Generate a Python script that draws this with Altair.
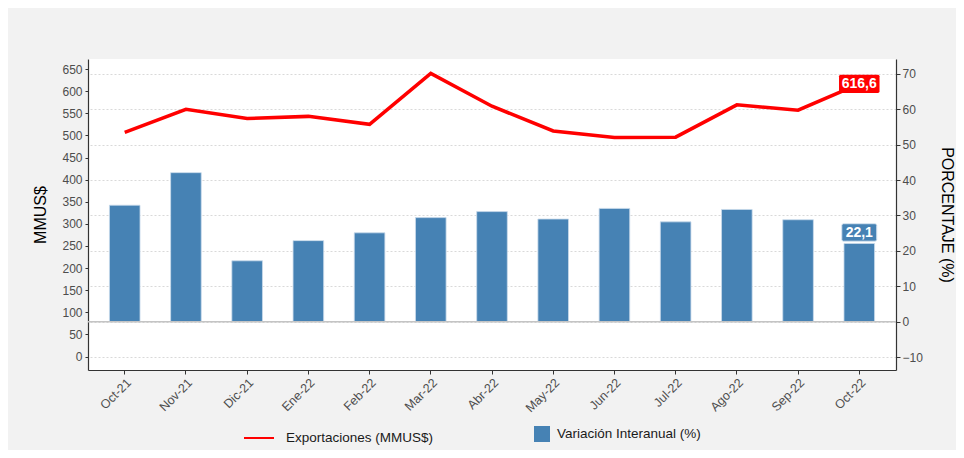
import altair as alt
import pandas as pd

months = ["Oct-21", "Nov-21", "Dic-21", "Ene-22", "Feb-22", "Mar-22", "Abr-22",
          "May-22", "Jun-22", "Jul-22", "Ago-22", "Sep-22", "Oct-22"]
exports = [507, 559, 538, 543, 525, 640, 566, 510, 495, 496, 569, 557, 616.6]
yoy = [32.9, 42.1, 17.2, 22.9, 25.1, 29.4, 31.1, 29.0, 32.0, 28.2, 31.7, 28.8, 22.1]
left_ticks = list(range(0, 651, 50))
right_ticks = list(range(-10, 71, 10))

line_name = "Exportaciones (MMUS$)"
bar_name = "Variación Interanual (%)"

df = pd.DataFrame({"mes": months, "exp": exports, "var": yoy})
df["s_line"] = line_name
df["s_bar"] = bar_name
df["exp_lbl"] = [f"{v:.1f}".replace(".", ",") for v in exports]
df["var_lbl"] = [f"{v:.1f}".replace(".", ",") for v in yoy]
df["zero"] = 0
last = df.tail(1)

FONT = "Liberation Sans"
LBL = "#4d4d4d"
AX = "#333333"

xaxis = alt.Axis(title=None, labelAngle=-45, labelAlign="right", labelBaseline="top",
                 labelFont=FONT, labelFontSize=12.5, labelColor=LBL, tickColor=AX,
                 domainColor=AX, domainWidth=1.2, tickSize=4, labelPadding=2, grid=False)
xenc = alt.X("mes:N", sort=months, scale=alt.Scale(paddingInner=0.5, paddingOuter=0.35),
             axis=xaxis)

yL = alt.Scale(domain=[-30.3, 672.7], nice=False, zero=False)
yR = alt.Scale(domain=[-13.64, 74.2], nice=False, zero=False)

right_axis = alt.Axis(orient="right", values=right_ticks, title="PORCENTAJE (%)",
                      titleAngle=90, titleFont=FONT, titleFontSize=16, titleFontWeight="normal",
                      titleColor="#000000", titlePadding=16, labelFont=FONT, labelFontSize=12,
                      labelColor=LBL, tickColor=AX, tickSize=4, labelPadding=2,
                      domainColor=AX, domainWidth=1.2, grid=True, gridDash=[2, 2],
                      gridColor="#d9d9d9", gridWidth=1)
left_axis = alt.Axis(orient="left", values=left_ticks, title="MMUS$", titleFont=FONT,
                     titleFontSize=16, titleFontWeight="normal", titleColor="#000000",
                     titlePadding=13, labelFont=FONT, labelFontSize=12, labelColor=LBL,
                     tickColor=AX, tickSize=3, labelPadding=3, domainColor=AX,
                     domainWidth=1.2, grid=False)

bars = alt.Chart(df).mark_bar(stroke="#c9dbeb", strokeWidth=0.8).encode(
    x=xenc,
    y=alt.Y("var:Q", scale=yR, axis=right_axis),
    y2=alt.Y2("zero:Q"),
    fill=alt.Fill("s_bar:N", scale=alt.Scale(domain=[bar_name], range=["#4682b4"]),
                  legend=alt.Legend(orient="none", legendX=446, legendY=367, title=None,
                                    labelFont=FONT, labelFontSize=13.5, labelColor="#1a1a1a",
                                    symbolType="square", symbolSize=256, symbolStrokeWidth=0,
                                    symbolOpacity=1, labelOffset=7, padding=0)),
)

zero_rule = alt.Chart(df.head(1)).mark_rule(color="#c4c4c4", strokeWidth=1.5).encode(
    y=alt.Y("zero:Q", scale=yR, axis=None),
)

line = alt.Chart(df).mark_line(strokeWidth=3.5).encode(
    x=xenc,
    y=alt.Y("exp:Q", scale=yL, axis=left_axis),
    stroke=alt.Stroke("s_line:N", scale=alt.Scale(domain=[line_name], range=["#ff0000"]),
                      legend=alt.Legend(orient="none", legendX=155, legendY=363, title=None,
                                        labelFont=FONT, labelFontSize=13.5,
                                        labelColor="#1a1a1a", symbolType="stroke",
                                        symbolSize=900, symbolStrokeWidth=2,
                                        labelOffset=11, padding=0)),
)

box_line = ("M-0.92,-0.45 L0.92,-0.45 Q1,-0.45 1,-0.37 L1,0.37 Q1,0.45 0.92,0.45 "
            "L-0.92,0.45 Q-1,0.45 -1,0.37 L-1,-0.37 Q-1,-0.45 -0.92,-0.45 Z")
box_bar = ("M-0.9,-0.5 L0.9,-0.5 Q1,-0.5 1,-0.4 L1,0.4 Q1,0.5 0.9,0.5 "
           "L-0.9,0.5 Q-1,0.5 -1,0.4 L-1,-0.4 Q-1,-0.5 -0.9,-0.5 Z")

line_box = alt.Chart(last).mark_point(shape=box_line, size=1640, filled=True,
                                      fill="#ff0000", opacity=1, strokeWidth=0).encode(
    x=xenc, y=alt.Y("exp:Q", scale=yL, axis=None))
line_txt = alt.Chart(last).mark_text(font=FONT, fontSize=14, fontWeight="bold",
                                     color="white", baseline="middle", align="center",
                                     dy=0.5).encode(
    x=xenc, y=alt.Y("exp:Q", scale=yL, axis=None), text="exp_lbl:N")

bar_box = alt.Chart(last).mark_point(shape=box_bar, size=1225, filled=True,
                                     fill="#4682b4", opacity=1, stroke="#d6e4f0",
                                     strokeWidth=1, yOffset=-11).encode(
    x=xenc, y=alt.Y("var:Q", scale=yR, axis=None))
bar_txt = alt.Chart(last).mark_text(font=FONT, fontSize=14, fontWeight="bold",
                                    color="white", baseline="middle", align="center",
                                    dy=-10.5).encode(
    x=xenc, y=alt.Y("var:Q", scale=yR, axis=None), text="var_lbl:N")

chart = alt.layer(bars, zero_rule, line, line_box, line_txt, bar_box, bar_txt).resolve_scale(
    y="independent", fill="independent", stroke="independent"
).properties(
    width=808, height=311,
    autosize=alt.AutoSizeParams(type="none"),
    padding={"left": 80, "top": 51, "right": 60, "bottom": 80},
    background="#f2f2f2",
).configure_view(fill="white", stroke=None)

chart.save("out.html", embed_options={"renderer": "svg", "actions": False})
